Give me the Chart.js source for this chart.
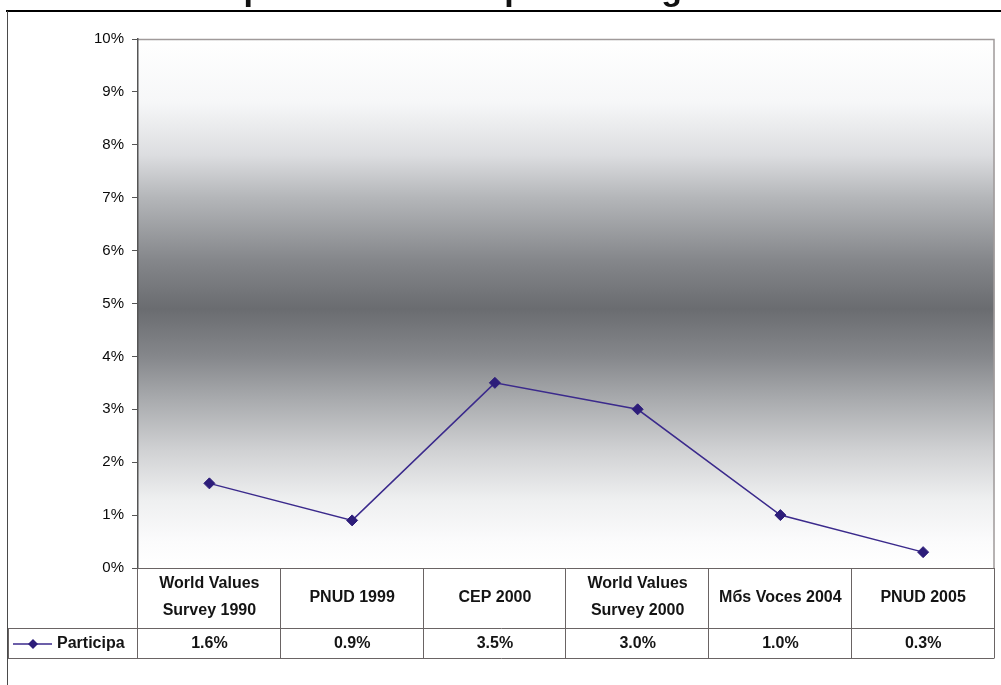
<!DOCTYPE html>
<html>
<head>
<meta charset="utf-8">
<script src="https://cdn.jsdelivr.net/npm/chart.js@4.4.0/dist/chart.umd.min.js"></script>
<style>
  html, body { margin: 0; padding: 0; background: #ffffff; }
  #wrap { position: relative; width: 1001px; height: 685px; }
</style>
</head>
<body>
<div id="wrap"><canvas id="c" width="1001" height="685"></canvas></div>
<script>
const titleText = "Chilenos activos en partidos o en la política alguna vez";
const categories = [
  ["World Values", "Survey 1990"],
  ["PNUD 1999"],
  ["CEP 2000"],
  ["World Values", "Survey 2000"],
  ["Mбs Voces 2004"],
  ["PNUD 2005"]
];
const seriesName = "Participa";
const participa = [1.6, 0.9, 3.5, 3.0, 1.0, 0.3];
const valueLabels = ["1.6%", "0.9%", "3.5%", "3.0%", "1.0%", "0.3%"];
const yTicks = [0, 1, 2, 3, 4, 5, 6, 7, 8, 9, 10];

const LINE_COLOR = "#3b2a8c";
const MARK_COLOR = "#2d1d7a";
const FONT = "'Liberation Sans', Arial, sans-serif";

const bgPlugin = {
  id: "bg",
  beforeDraw(chart) {
    const { ctx, chartArea: a } = chart;
    const g = ctx.createLinearGradient(0, a.top, 0, a.bottom);
    g.addColorStop(0.00, "#ffffff");
    g.addColorStop(0.12, "#f6f7f8");
    g.addColorStop(0.22, "#dcdde0");
    g.addColorStop(0.30, "#b4b6b9");
    g.addColorStop(0.42, "#84868a");
    g.addColorStop(0.51, "#6a6c70");
    g.addColorStop(0.60, "#85878b");
    g.addColorStop(0.68, "#a8aaad");
    g.addColorStop(0.78, "#d1d2d4");
    g.addColorStop(0.87, "#eeeff0");
    g.addColorStop(0.95, "#fbfbfc");
    g.addColorStop(1.00, "#ffffff");
    ctx.save();
    ctx.fillStyle = g;
    ctx.fillRect(a.left, a.top, a.right - a.left, a.bottom - a.top);
    ctx.strokeStyle = "#a09a9a";
    ctx.lineWidth = 1.5;
    ctx.beginPath();
    ctx.moveTo(a.left, a.top + 0.5);
    ctx.lineTo(a.right - 0.5, a.top + 0.5);
    ctx.lineTo(a.right - 0.5, a.bottom);
    ctx.stroke();
    ctx.restore();
  },
  afterDraw(chart) {
    const { ctx, chartArea: a } = chart;
    const xs = chart.scales.x;
    const n = categories.length;
    const colW = (a.right - a.left) / n;
    const rowTop = a.bottom;
    const rowMid = rowTop + 60;
    const rowBot = rowMid + 30;
    const keyLeft = 8;
    ctx.save();
    // title (cut off at top: only descenders remain visible)
    ctx.fillStyle = "#111111";
    ctx.font = "bold 34px " + FONT;
    ctx.textAlign = "left";
    ctx.textBaseline = "alphabetic";
    const firstP = titleText.indexOf("p");
    const preW = ctx.measureText(titleText.slice(0, firstP)).width;
    const pW = ctx.measureText("p").width;
    ctx.fillText(titleText, 254 - preW - pW / 2, 0);

    // outer frame
    ctx.strokeStyle = "#000000";
    ctx.lineWidth = 2;
    ctx.beginPath();
    ctx.moveTo(6, 11);
    ctx.lineTo(1001, 11);
    ctx.stroke();
    ctx.strokeStyle = "#4a4a4a";
    ctx.lineWidth = 1;
    ctx.beginPath();
    ctx.moveTo(7.5, 11);
    ctx.lineTo(7.5, 685);
    ctx.stroke();

    // table grid
    ctx.strokeStyle = "#6a6464";
    ctx.lineWidth = 1;
    ctx.beginPath();
    ctx.moveTo(a.left, rowTop + 0.5); ctx.lineTo(a.right, rowTop + 0.5);
    ctx.moveTo(keyLeft, rowMid + 0.5); ctx.lineTo(a.right, rowMid + 0.5);
    ctx.moveTo(keyLeft, rowBot + 0.5); ctx.lineTo(a.right, rowBot + 0.5);
    ctx.moveTo(keyLeft + 0.5, rowMid); ctx.lineTo(keyLeft + 0.5, rowBot);
    for (let i = 0; i <= n; i++) {
      const cx = i < n ? xs.getPixelForValue(i) - colW / 2 : xs.getPixelForValue(n - 1) + colW / 2;
      const px = Math.round(cx) - 0.5;
      ctx.moveTo(px, rowTop); ctx.lineTo(px, rowBot);
    }
    ctx.stroke();

    // category labels
    ctx.fillStyle = "#141414";
    ctx.font = "bold 16px " + FONT;
    ctx.textAlign = "center";
    ctx.textBaseline = "middle";
    categories.forEach((lines, i) => {
      const cx = xs.getPixelForValue(i);
      const cy = rowTop + 30;
      if (lines.length === 1) {
        ctx.fillText(lines[0], cx, cy);
      } else {
        ctx.fillText(lines[0], cx, cy - 14);
        ctx.fillText(lines[1], cx, cy + 13);
      }
    });
    // values
    valueLabels.forEach((v, i) => {
      ctx.fillText(v, xs.getPixelForValue(i), rowMid + 16);
    });
    // legend key
    const ky = rowMid + 16;
    ctx.strokeStyle = LINE_COLOR;
    ctx.lineWidth = 1.5;
    ctx.beginPath();
    ctx.moveTo(13, ky); ctx.lineTo(52, ky);
    ctx.stroke();
    ctx.fillStyle = MARK_COLOR;
    ctx.beginPath();
    ctx.moveTo(33, ky - 5); ctx.lineTo(38, ky); ctx.lineTo(33, ky + 5); ctx.lineTo(28, ky);
    ctx.closePath(); ctx.fill();
    ctx.fillStyle = "#141414";
    ctx.textAlign = "left";
    ctx.fillText(seriesName, 57, ky);
    ctx.restore();
  }
};

new Chart(document.getElementById("c"), {
  type: "line",
  data: {
    labels: categories.map(c => c.join(" ")),
    datasets: [{
      label: seriesName,
      data: participa,
      borderColor: LINE_COLOR,
      borderWidth: 1.5,
      backgroundColor: MARK_COLOR,
      pointStyle: "rectRot",
      pointRadius: 5.5,
      pointHoverRadius: 5.5,
      pointBackgroundColor: MARK_COLOR,
      pointBorderColor: MARK_COLOR,
      pointBorderWidth: 1,
      tension: 0,
      fill: false
    }]
  },
  options: {
    responsive: false,
    animation: false,
    events: [],
    layout: { padding: { top: 39, right: 4, bottom: 117, left: 0 } },
    plugins: { legend: { display: false }, title: { display: false }, tooltip: { enabled: false } },
    scales: {
      x: {
        type: "category",
        offset: true,
        display: false
      },
      y: {
        min: 0,
        max: 10,
        afterFit(scale) { scale.width = 138; },
        afterBuildTicks(scale) { scale.ticks = yTicks.map(v => ({ value: v })); },
        ticks: {
          stepSize: 1,
          padding: 8,
          color: "#0a0a0a",
          font: { family: FONT, size: 15 },
          callback: v => v + "%"
        },
        grid: {
          drawOnChartArea: false,
          drawTicks: true,
          tickLength: 6,
          color: "#555555"
        },
        border: { display: true, color: "#555555", width: 1.5 }
      }
    }
  },
  plugins: [bgPlugin]
});
</script>
</body>
</html>
